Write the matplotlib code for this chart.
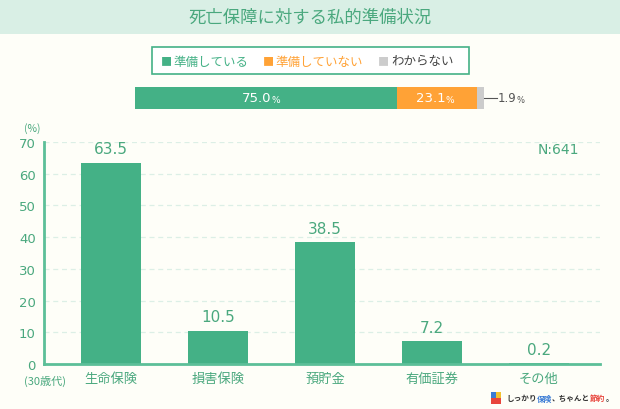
import matplotlib
matplotlib.use("Agg")
import matplotlib.pyplot as plt
from matplotlib.patches import Rectangle

plt.rcParams['font.family'] = ['Noto Sans CJK JP', 'DejaVu Sans']
NUM = ['DejaVu Sans']

# data
categories = ['生命保険', '損害保険', '預貯金', '有価証券', 'その他']
values = [63.5, 10.5, 38.5, 7.2, 0.2]
share_labels = ['準備している', '準備していない', 'わからない']
share_values = [75.0, 23.1, 1.9]

GREEN = '#44b186'
TXT = '#4aa87e'
ORANGE = '#ffa236'
GRAY = '#cccccc'
BG = '#fefef8'

fig = plt.figure(figsize=(6.2, 4.1), dpi=100)
fig.patch.set_facecolor(BG)

# title band
fig.patches.append(Rectangle((0, 1 - 35 / 410), 1, 35 / 410, transform=fig.transFigure,
                             facecolor='#d9efe5', edgecolor='none', zorder=0))
fig.text(0.5, 1 - 18 / 410, '死亡保障に対する私的準備状況', ha='center', va='center',
         fontsize=12.5, color=TXT)

# legend box
fig.patches.append(Rectangle((152 / 620, 1 - 75 / 410), 317 / 620, 27 / 410,
                             transform=fig.transFigure, facecolor='white',
                             edgecolor=GREEN, linewidth=1.2, zorder=1))
leg_colors = [GREEN, ORANGE, GRAY]
leg_text_colors = [GREEN, ORANGE, '#444444']
leg_x = [166, 268, 383]
for lx, lab, c, tc in zip(leg_x, share_labels, leg_colors, leg_text_colors):
    fig.text(lx / 620, 1 - 62 / 410, '■', color=c, fontsize=8, ha='center', va='center')
    fig.text((lx + 8) / 620, 1 - 62 / 410, lab, color=tc, fontsize=9, ha='left', va='center')

# stacked share bar
ax2 = fig.add_axes([135 / 620, 1 - 110 / 410, 349 / 620, 22 / 410])
ax2.set_facecolor('none')
left = 0
for v, c in zip(share_values, leg_colors):
    ax2.barh(0, v, left=left, color=c, height=1.0)
    left += v
ax2.set_xlim(0, sum(share_values))
ax2.set_ylim(-0.5, 0.5)
ax2.axis('off')
ax2.text(share_values[0] / 2 + 1.5, 0, f'{share_values[0]:.1f}', color='white', fontsize=9.5,
         ha='right', va='center', family=NUM)
ax2.text(share_values[0] / 2 + 1.5, -0.05, '%', color='white', fontsize=6.5, ha='left',
         va='center', family=NUM)
mid2 = share_values[0] + share_values[1] / 2
ax2.text(mid2 + 2.5, 0, f'{share_values[1]:.1f}', color='white', fontsize=9.5,
         ha='right', va='center', family=NUM)
ax2.text(mid2 + 2.5, -0.05, '%', color='white', fontsize=6.5, ha='left', va='center',
         family=NUM)
ax2.plot([100, 103.7], [0, 0], color='#555555', lw=0.8, clip_on=False)
ax2.text(103.9, 0, f'{share_values[2]:.1f}', color='#555555', fontsize=8.5,
         ha='left', va='center', family=NUM)
ax2.text(109.2, -0.05, '%', color='#555555', fontsize=6, ha='left', va='center', family=NUM)

# main bar chart
ax = fig.add_axes([44 / 620, 45 / 410, 556 / 620, 222 / 410])
ax.set_facecolor('none')
x = range(len(categories))
ax.bar(x, values, width=0.56, color=GREEN, zorder=2)
for i, v in zip(x, values):
    ax.text(i, v + 2.0, f'{v:.1f}', ha='center', va='bottom', color=TXT, fontsize=11,
            family=NUM)
ax.set_xlim(-0.626, 4.57)
ax.set_ylim(0, 70)
ax.set_yticks(range(0, 71, 10))
ax.yaxis.grid(True, linestyle=(0, (4, 3)), color='#dcefe6', linewidth=0.9)
ax.set_axisbelow(True)
ax.set_xticks(list(x))
ax.set_xticklabels(categories)
ax.tick_params(axis='both', length=0, colors=TXT, labelsize=9.5)
ax.tick_params(axis='x', pad=6)
ax.tick_params(axis='y', pad=6)
for lab in ax.get_yticklabels():
    lab.set_family(NUM)
for s in ['top', 'right']:
    ax.spines[s].set_visible(False)
for s in ['left', 'bottom']:
    ax.spines[s].set_color('#5cbf98')
    ax.spines[s].set_linewidth(2)
ax.text(0.925, 0.97, 'N:641', transform=ax.transAxes, ha='center', va='center',
        color=TXT, fontsize=10, family=NUM)
fig.text(32 / 620, 1 - 129 / 410, '(%)', color=TXT, fontsize=7.5, ha='center', va='center')
fig.text(45 / 620, 1 - 381 / 410, '(30歳代)', color=TXT, fontsize=8, ha='center', va='center')

# footer logo
fig.patches.append(Rectangle((491 / 620, 1 - 399 / 410), 5 / 620, 6 / 410,
                             transform=fig.transFigure, facecolor='#3a7bd5', edgecolor='none'))
fig.patches.append(Rectangle((496 / 620, 1 - 399 / 410), 5 / 620, 6 / 410,
                             transform=fig.transFigure, facecolor='#f2c230', edgecolor='none'))
fig.patches.append(Rectangle((491 / 620, 1 - 405 / 410), 10 / 620, 6 / 410,
                             transform=fig.transFigure, facecolor='#e8453c', edgecolor='none'))
parts = [('しっかり', '#333333'), ('保険', '#3a7bd5'), ('、ちゃんと', '#333333'),
         ('節約', '#e8453c'), ('。', '#333333')]
fs = 5.5
char_w = fs * 100 / 72
px = 506
for t, c in parts:
    fig.text(px / 620, 1 - 399 / 410, t, color=c, fontsize=fs, ha='left',
             va='center', fontweight='bold')
    px += char_w * len(t)

fig.savefig('out.png', dpi=100, facecolor=BG)
